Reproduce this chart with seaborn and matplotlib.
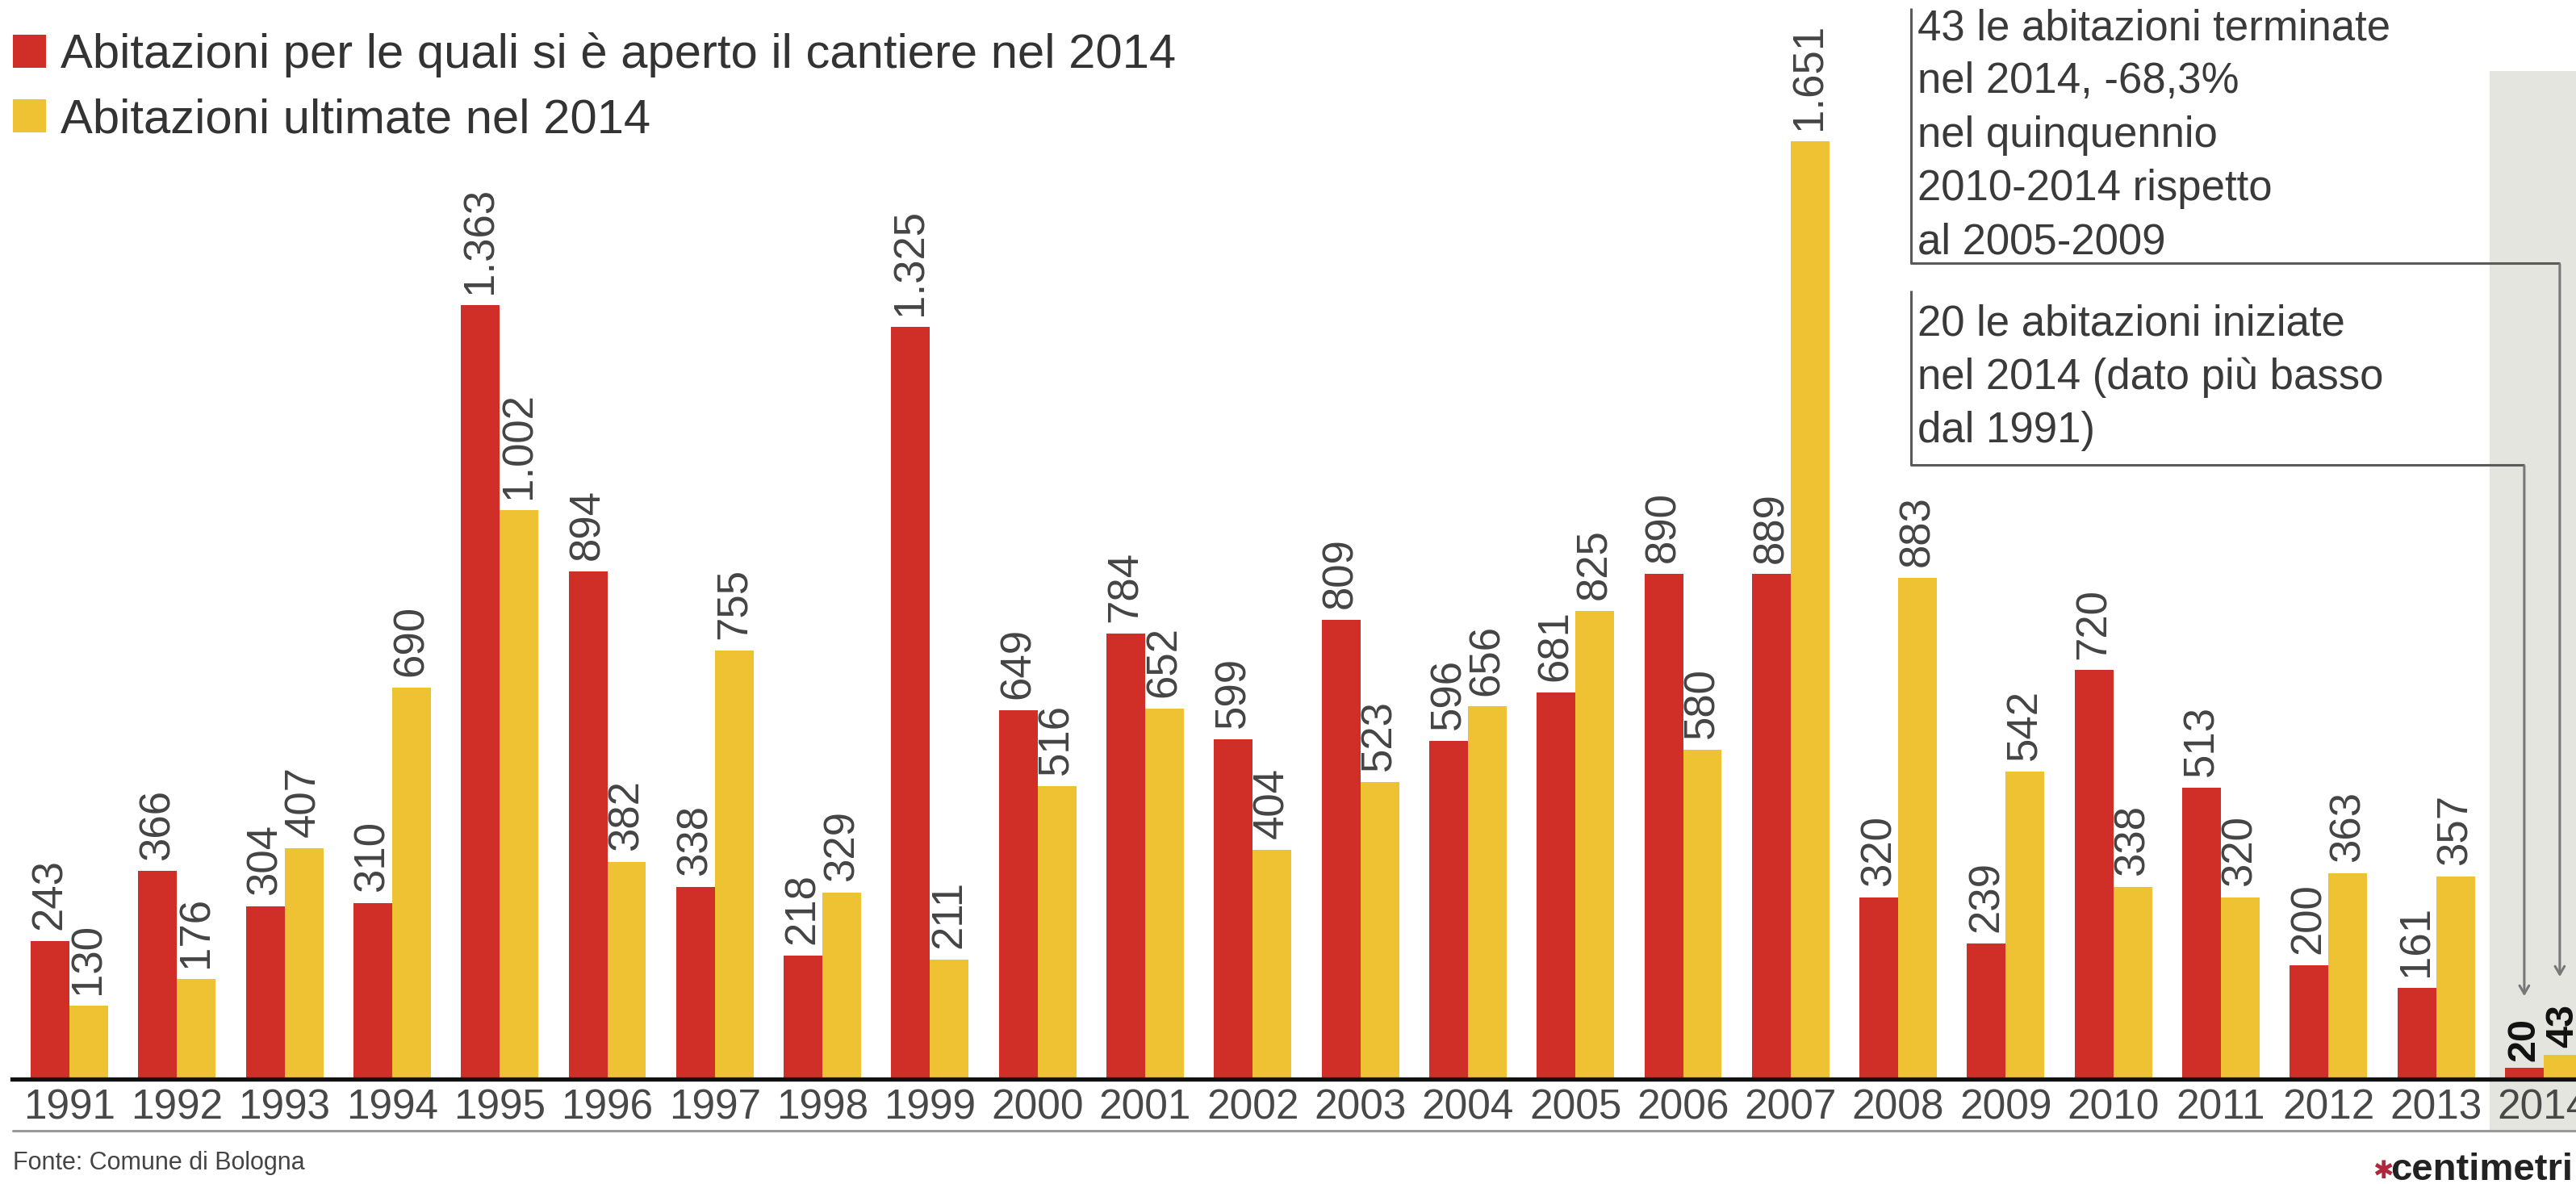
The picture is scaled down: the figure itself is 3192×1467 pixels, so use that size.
import matplotlib
matplotlib.use("Agg")
import matplotlib.pyplot as plt
from matplotlib.lines import Line2D
from matplotlib.patches import Rectangle
import seaborn as sns
import pandas as pd

# ---------------- data ----------------
anni = [str(y) for y in range(1991, 2015)]
iniziate = [243, 366, 304, 310, 1363, 894, 338, 218, 1325, 649, 784, 599,
            809, 596, 681, 890, 889, 320, 239, 720, 513, 200, 161, 20]
ultimate = [130, 176, 407, 690, 1002, 382, 755, 329, 211, 516, 652, 404,
            523, 656, 825, 580, 1651, 883, 542, 338, 320, 363, 357, 43]
serie = ["Abitazioni per le quali si è aperto il cantiere nel 2014",
         "Abitazioni ultimate nel 2014"]
colori = ["#D02F28", "#EEC232"]
nota1 = "43 le abitazioni terminate\nnel 2014, -68,3%\nnel quinquennio\n2010-2014 rispetto\nal 2005-2009"
nota2 = "20 le abitazioni iniziate\nnel 2014 (dato più basso\ndal 1991)"
fonte = "Fonte: Comune di Bologna"

# ---------------- figure ----------------
W, H, DPI = 3192, 1467, 100
sns.set_theme(style="white")
plt.rcParams["font.family"] = ["Liberation Sans", "DejaVu Sans"]
FONT = ["Liberation Sans", "DejaVu Sans"]

fig = plt.figure(figsize=(W / DPI, H / DPI), dpi=DPI)
base_px = 1337          # baseline y (pixels from top)
ax = fig.add_axes([0, (H - base_px) / H, 1, base_px / H])
ax.set_facecolor("none")

df = pd.DataFrame({
    "anno": anni * 2,
    "valore": iniziate + ultimate,
    "serie": [serie[0]] * len(anni) + [serie[1]] * len(anni),
})
sns.barplot(data=df, x="anno", y="valore", hue="serie", order=anni,
            hue_order=serie, palette=colori, width=0.72, saturation=1,
            linewidth=0, ax=ax, zorder=2)

px_unit = 133.3
x0_px = 86
ax.set_xlim(-x0_px / px_unit, (W - x0_px) / px_unit)
ax.set_ylim(0, base_px / 0.7036)

def px2data(xp, yp):
    return ax.transData.inverted().transform((xp, H - yp))

# axes styling
for s in ["top", "left", "right"]:
    ax.spines[s].set_visible(False)
ax.spines["bottom"].set_color("#111111")
ax.spines["bottom"].set_linewidth(3.8)
ax.spines["bottom"].set_bounds(-0.53, ax.get_xlim()[1])
ax.set_xlabel("")
ax.set_ylabel("")
ax.set_yticks([])
ax.set_xticks(range(len(anni)))
ax.set_xticklabels(anni, fontfamily=FONT, fontsize=37, color="#484848")
ax.tick_params(axis="x", which="major", length=0, pad=8)
ax.set_xticks([i + 0.5 for i in range(len(anni) - 1)], minor=True)
ax.tick_params(axis="x", which="minor", length=42, width=1.6,
               color="#555555", direction="out")

# grey band for 2014
xb0, yb0 = px2data(3085, 1402)
xb1, yb1 = px2data(W + 5, 88)
ax.add_patch(Rectangle((22.5, yb0), xb1 - 22.5, yb1 - yb0, facecolor="#E5E5E0",
                       edgecolor="none", zorder=0.5, clip_on=False))

# value labels
def fmt(v):
    return f"{v:,}".replace(",", ".")

for cont, vals in zip(ax.containers, [iniziate, ultimate]):
    labs = [fmt(v) for v in vals[:-1]] + [""]
    ax.bar_label(cont, labels=labs, rotation=90, padding=10, fontsize=38,
                 color="#444444", fontfamily=FONT)
    labs2 = [""] * (len(vals) - 1) + [fmt(vals[-1])]
    ax.bar_label(cont, labels=labs2, rotation=90, padding=6, fontsize=35,
                 color="#111111", fontweight="bold", fontfamily=FONT)

# legend
sns.move_legend(ax, loc="upper left", bbox_to_anchor=(16 / W, 1 - 40 / H),
                bbox_transform=fig.transFigure, title=None, frameon=False,
                prop={"family": FONT, "size": 43}, handlelength=0.68,
                handleheight=0.68, handletextpad=0.3, labelspacing=0.42,
                borderaxespad=0, borderpad=0)
for t in ax.get_legend().get_texts():
    t.set_color("#333333")

# annotations
tx = 2376
fig.text(tx / W, 1 - 10 / H, nota1, ha="left", va="top", fontsize=38,
         fontfamily=FONT, color="#3a3a3a", linespacing=1.42)
fig.text(tx / W, 1 - 376 / H, nota2, ha="left", va="top", fontsize=38,
         fontfamily=FONT, color="#3a3a3a", linespacing=1.42)

red_bar = ax.containers[0][-1]
yel_bar = ax.containers[1][-1]
xr = red_bar.get_x() + red_bar.get_width() / 2
xy_ = yel_bar.get_x() + yel_bar.get_width() / 2 - 0.03
lc = "#5a5a5a"
xl, yt1 = px2data(2368, 10)
_, yh1 = px2data(2368, 326)
_, yt2 = px2data(2368, 360)
_, yh2 = px2data(2368, 576)
ax.plot([xl, xl, xy_], [yt1, yh1, yh1], color=lc, lw=2.2, clip_on=False,
        solid_capstyle="butt", zorder=3)
ax.plot([xl, xl, xr], [yt2, yh2, yh2], color=lc, lw=2.2, clip_on=False,
        solid_capstyle="butt", zorder=3)
_, tip1 = px2data(0, 1213)
_, tip2 = px2data(0, 1237)
ax.annotate("", xy=(xy_, tip1), xytext=(xy_, yh1 + 2),
            arrowprops=dict(arrowstyle="->,head_length=0.6,head_width=0.35",
                            color="#777777", lw=2.2), annotation_clip=False)
ax.annotate("", xy=(xr, tip2), xytext=(xr, yh2 + 2),
            arrowprops=dict(arrowstyle="->,head_length=0.6,head_width=0.35",
                            color="#777777", lw=2.2), annotation_clip=False)

# bottom rule, source, logo
fig.add_artist(Line2D([16 / W, 1], [1 - 1401 / H] * 2, color="#9a9a9a", lw=2.2,
                      transform=fig.transFigure))
fig.text(16 / W, 1 - 1441 / H, fonte, ha="left", va="center", fontsize=22,
         fontfamily=FONT, color="#444444")
fig.text(2940 / W, 1 - 1452 / H, "✱", ha="left", va="center", fontsize=22,
         color="#B0283C", fontfamily="DejaVu Sans")
fig.text(2962 / W, 1 - 1450 / H, "centimetri", ha="left", va="center",
         fontsize=34, fontweight="bold", color="#222222", fontfamily=FONT)

fig.savefig("out.png", dpi=DPI)
